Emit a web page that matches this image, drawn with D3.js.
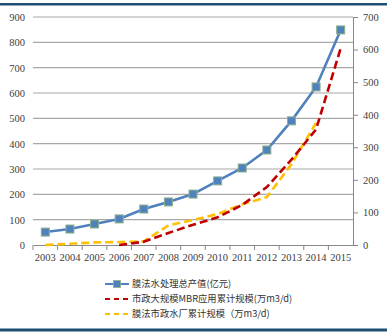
<!DOCTYPE html>
<html><head><meta charset="utf-8">
<script src="https://cdn.jsdelivr.net/npm/d3@7"></script>
<style>body{margin:0;background:#fff}svg{display:block}</style>
</head><body>
<svg id="c" width="387" height="335"></svg>
<script>
const years = ["2003","2004","2005","2006","2007","2008","2009","2010","2011","2012","2013","2014","2015"];
const outputValue = [51, 63, 83, 103, 142, 170, 201, 253, 304, 375, 490, 624, 849];
const mbrScale = [null, null, null, 0, 10, 37, 62, 85, 123, 178, 262, 355, 604];
const plantScale = [0, 4, 8, 9, 11, 60, 77, 95, 125, 147, 248, 375, null];
const leftTicks = [0,100,200,300,400,500,600,700,800,900];
const rightTicks = [0,100,200,300,400,500,600,700];
const legendLabels = ["膜法水处理总产值(亿元)", "市政大规模MBR应用累计规模(万m3/d)", "膜法市政水厂累计规模（万m3/d)"];

const svg = d3.select("#c");
const L = 33, R = 353, T = 17, B = 245;
const x = d3.scaleBand().domain(years).range([L, R]);
const yL = d3.scaleLinear().domain([0, 900]).range([B, T]);
const yR = d3.scaleLinear().domain([0, 700]).range([B, T]);
const cx = d => x(d) + x.bandwidth() / 2;

// frame lines
svg.append("rect").attr("x",0).attr("y",3).attr("width",387).attr("height",2.5).attr("fill","#1C4F73");
svg.append("rect").attr("x",0).attr("y",328.5).attr("width",387).attr("height",3).attr("fill","#1C4F73");

// gridlines
svg.append("g").selectAll("line").data(leftTicks.slice(1)).join("line")
  .attr("x1", L).attr("x2", R).attr("y1", d => yL(d)).attr("y2", d => yL(d))
  .attr("stroke", "#A8A8A8").attr("stroke-width", 1.2);

const numFont = "'Liberation Serif','Times New Roman',serif";

// left axis (labels only)
const gl = svg.append("g").attr("transform", `translate(${L},0)`)
  .call(d3.axisLeft(yL).tickValues(leftTicks).tickSize(0).tickPadding(8));
gl.select(".domain").remove();
gl.selectAll("text").attr("font-family", numFont).attr("font-size", 10.5).attr("fill", "#404040");

// right axis
const gr = svg.append("g").attr("transform", `translate(${R},0)`)
  .call(d3.axisRight(yR).tickValues(rightTicks).tickSize(5).tickPadding(5).tickSizeOuter(0));
gr.select(".domain").attr("stroke", "#888");
gr.selectAll(".tick line").attr("stroke", "#888");
gr.selectAll("text").attr("font-family", numFont).attr("font-size", 10.5).attr("fill", "#404040");

// bottom axis
const gb = svg.append("g").attr("transform", `translate(0,${B})`)
  .call(d3.axisBottom(x).tickSize(0).tickPadding(9));
gb.select(".domain").attr("stroke", "#888");
gb.selectAll("text").attr("font-family", numFont).attr("font-size", 10.5).attr("fill", "#404040");
svg.append("g").selectAll("line").data(years).join("line")
  .attr("x1", d => x(d)).attr("x2", d => x(d)).attr("y1", B).attr("y2", B + 5)
  .attr("stroke", "#888");

// lines
const lineR = d3.line().defined(d => d.v !== null).x(d => cx(d.k)).y(d => yR(d.v));
const lineL = d3.line().x(d => cx(d.k)).y(d => yL(d.v));
const pts = arr => years.map((k, i) => ({k, v: arr[i]}));

svg.append("path").datum(pts(plantScale).filter(d => d.v !== null)).attr("d", lineR)
  .attr("fill", "none").attr("stroke", "#FFC000").attr("stroke-width", 2.6).attr("stroke-dasharray", "8,4");
svg.append("path").datum(pts(mbrScale).filter(d => d.v !== null)).attr("d", lineR)
  .attr("fill", "none").attr("stroke", "#C00000").attr("stroke-width", 2.6).attr("stroke-dasharray", "8,4");
svg.append("path").datum(pts(outputValue)).attr("d", lineL)
  .attr("fill", "none").attr("stroke", "#4F81BD").attr("stroke-width", 2.6);
svg.append("g").selectAll("rect").data(pts(outputValue)).join("rect")
  .attr("x", d => cx(d.k) - 4).attr("y", d => yL(d.v) - 4).attr("width", 8).attr("height", 8)
  .attr("fill", "#4F81BD").attr("stroke", "#8DB08A").attr("stroke-width", 1);

// legend
const lg = svg.append("g");
const ly = [284, 299, 314];
lg.append("line").attr("x1",105).attr("x2",129).attr("y1",ly[0]).attr("y2",ly[0]).attr("stroke","#4F81BD").attr("stroke-width",2);
lg.append("rect").attr("x",113.5).attr("y",ly[0]-3.5).attr("width",7).attr("height",7).attr("fill","#4F81BD").attr("stroke","#8DB08A").attr("stroke-width",0.8);
lg.append("line").attr("x1",105).attr("x2",130).attr("y1",ly[1]).attr("y2",ly[1]).attr("stroke","#C00000").attr("stroke-width",2).attr("stroke-dasharray","5,4");
lg.append("line").attr("x1",105).attr("x2",130).attr("y1",ly[2]).attr("y2",ly[2]).attr("stroke","#FFC000").attr("stroke-width",2).attr("stroke-dasharray","5,4");
lg.selectAll("text").data(legendLabels).join("text")
  .attr("x", 132).attr("y", (d, i) => ly[i]).attr("dy", "0.35em")
  .attr("font-family", "'Noto Sans CJK SC', sans-serif").attr("font-size", 9.3).attr("fill", "#333")
  .text(d => d);
</script>
</body></html>
